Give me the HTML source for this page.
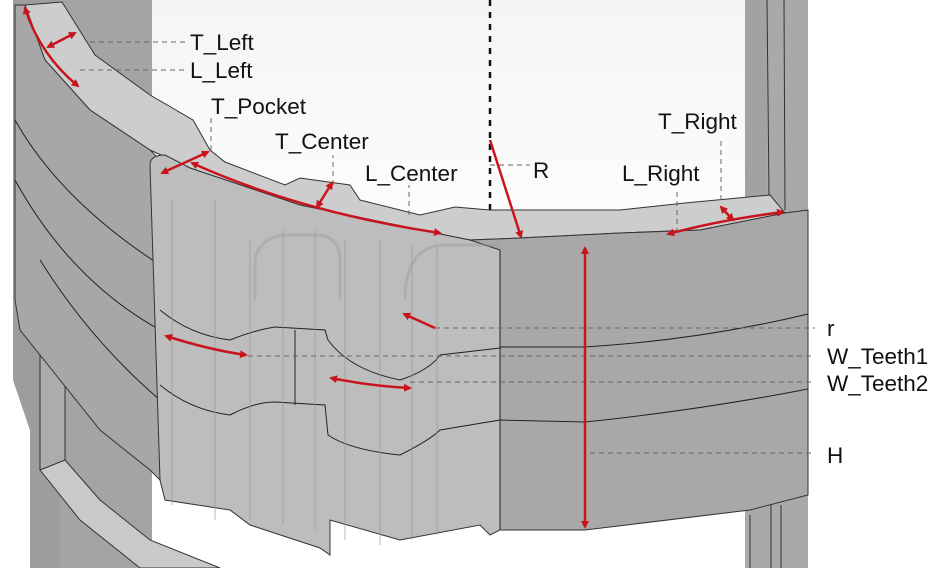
<!DOCTYPE html>
<html><head><style>
html,body{margin:0;padding:0;background:#fff;}
svg{display:block;}
text{font-family:"Liberation Sans",sans-serif;font-size:22.5px;fill:#111;}
</style></head><body>
<svg width="939" height="568" viewBox="0 0 939 568" xmlns="http://www.w3.org/2000/svg">
<defs>
<marker id="a" markerWidth="8" markerHeight="8" refX="6" refY="4" orient="auto-start-reverse" markerUnits="userSpaceOnUse">
<path d="M0,0 L8,4 L0,8 z" fill="#c8141c"/></marker>
<linearGradient id="bg" x1="0" y1="0" x2="0" y2="1"><stop offset="0" stop-color="#f4f5f6"/><stop offset="1" stop-color="#fdfdfd"/></linearGradient>
</defs>
<rect width="939" height="568" fill="#fff"/>
<rect x="150" y="0" width="600" height="240" fill="url(#bg)"/>
<rect x="745" y="0" width="63" height="568" fill="#a9a9a9"/>
<rect x="745" y="0" width="22" height="200" fill="#a2a2a2"/>
<line x1="767" y1="0" x2="769" y2="195" stroke="#333" stroke-width="1"/>
<line x1="784" y1="0" x2="785" y2="210" stroke="#333" stroke-width="1"/>
<line x1="750" y1="515" x2="750" y2="568" stroke="#333" stroke-width="1"/>
<line x1="771" y1="505" x2="771" y2="568" stroke="#333" stroke-width="1"/>
<line x1="781" y1="505" x2="781" y2="568" stroke="#333" stroke-width="1"/>
<path d="M13,0 L152,0 L152,568 L30,568 L30,430 L13,380 Z" fill="#a4a4a4"/>
<path d="M13,0 L60,0 L60,568 L30,568 L30,430 L13,380 Z" fill="#9d9d9d"/>
<path d="M40,330 L65,330 L65,470 L40,470 Z" fill="#acacac" stroke="#333" stroke-width="1"/>
<path d="M40,470 L65,460 L100,500 L150,540 L220,568 L140,568 L80,520 Z" fill="#c9c9c9" stroke="#333" stroke-width="1"/>
<path d="M25,5 L62,2 L95,55 L150,95 L193,120 L210,150 L225,162 L285,185 L300,178 L350,185 L360,200 L420,215 L455,207 L490,210 L620,210 L685,203 L770,195 L785,213 L700,230 L620,233 L520,238 L470,240 L430,232 L300,205 L190,168 L150,150 L90,110 L45,60 Z" fill="#cdcdcd" stroke="#333" stroke-width="1"/>
<path d="M15,5 L25,5 L45,60 L90,110 L150,150 L160,160 L160,480 L150,470 L100,430 L60,380 L20,330 L15,300 Z" fill="#a7a7a7" stroke="#333" stroke-width="1"/>
<path d="M15,120 Q60,200 160,265 M15,180 Q70,280 160,330 M40,260 Q90,340 160,400" fill="none" stroke="#222" stroke-width="1"/>
<path d="M470,240 L520,238 L620,233 L700,230 L785,213 L808,210 L808,495 L750,510 L585,530 L500,530 Z" fill="#a8a8a8" stroke="#333" stroke-width="1"/>
<path d="M500,347 L585,347 Q700,340 808,314 M500,420 L585,422 Q700,410 808,389" fill="none" stroke="#222" stroke-width="1"/>
<path d="M150,165 Q150,155 165,155 L190,168 L300,205 L430,232 L470,240 L500,250 L500,530 L490,535 L480,525 L400,540 L330,520 L330,555 L320,548 L250,525 L230,510 L165,500 L160,480 Z" fill="#bdbdbd" stroke="#333" stroke-width="1"/>
<path d="M255,300 L255,260 Q260,235 290,235 L315,235 Q340,235 340,260 L340,300" fill="none" stroke="#999" stroke-width="3" opacity="0.4"/>
<path d="M405,300 Q405,250 440,245 L500,245" fill="none" stroke="#999" stroke-width="3" opacity="0.4"/>
<path d="M160,310 Q190,335 230,340 Q255,330 275,327 L325,330 L328,340 Q350,370 400,380 Q430,370 440,355 L500,348" fill="none" stroke="#222" stroke-width="1"/>
<path d="M160,385 Q190,410 230,415 Q255,402 275,402 L325,405 L328,435 Q350,450 400,455 Q430,440 440,430 L500,420" fill="none" stroke="#222" stroke-width="1"/>
<line x1="295" y1="330" x2="295" y2="405" stroke="#222"/>
<g stroke="#9a9a9a" stroke-width="0.7" fill="none">
<line x1="172" y1="200" x2="172" y2="505"/><line x1="215" y1="200" x2="215" y2="520"/><line x1="250" y1="240" x2="250" y2="520"/>
<line x1="283" y1="230" x2="283" y2="525"/><line x1="315" y1="230" x2="315" y2="530"/><line x1="345" y1="240" x2="345" y2="540"/>
<line x1="380" y1="240" x2="380" y2="545"/><line x1="412" y1="245" x2="412" y2="540"/><line x1="437" y1="245" x2="437" y2="535"/>
</g>
<line x1="500" y1="250" x2="500" y2="530" stroke="#222"/>
<line x1="490" y1="0" x2="490" y2="210" stroke="#111" stroke-width="2.5" stroke-dasharray="6,6"/>
<g stroke="#666" stroke-width="1" stroke-dasharray="5,4" fill="none">
<path d="M90,42 H185"/><path d="M80,70 H185"/>
<path d="M211,150 V115"/><path d="M333,185 V155"/><path d="M409,215 V185"/>
<path d="M490,165 H530"/><path d="M677,233 V190"/><path d="M721,200 V140"/>
<path d="M435,328 H815"/><path d="M248,356 H815"/><path d="M410,382 H815"/><path d="M590,453 H815"/>
</g>
<g stroke="#c8141c" stroke-width="2.5" fill="none">
<path d="M25,8 Q40,55 78,86" marker-start="url(#a)" marker-end="url(#a)"/>
<path d="M48,47 L75,33" marker-start="url(#a)" marker-end="url(#a)"/>
<path d="M162,173 L208,152" marker-start="url(#a)" marker-end="url(#a)"/>
<path d="M192,163 Q300,212 440,233" marker-start="url(#a)" marker-end="url(#a)"/>
<path d="M317,207 L332,183" marker-start="url(#a)" marker-end="url(#a)"/>
<path d="M490,140 L521,237" marker-end="url(#a)"/>
<path d="M668,234 Q720,220 783,212" marker-start="url(#a)" marker-end="url(#a)"/>
<path d="M721,207 L733,220" marker-start="url(#a)" marker-end="url(#a)"/>
<path d="M585,248 V527" marker-start="url(#a)" marker-end="url(#a)"/>
<path d="M435,328 L404,314" marker-end="url(#a)"/>
<path d="M166,336 Q210,350 246,355" marker-start="url(#a)" marker-end="url(#a)"/>
<path d="M331,378 Q370,386 410,388" marker-start="url(#a)" marker-end="url(#a)"/>
</g>
<text x="190" y="50">T_Left</text>
<text x="190" y="78">L_Left</text>
<text x="211" y="114">T_Pocket</text>
<text x="275" y="149">T_Center</text>
<text x="365" y="181">L_Center</text>
<text x="533" y="178">R</text>
<text x="622" y="181">L_Right</text>
<text x="658" y="129">T_Right</text>
<text x="827" y="336">r</text>
<text x="827" y="364">W_Teeth1</text>
<text x="827" y="391">W_Teeth2</text>
<text x="827" y="463">H</text>
</svg>
</body></html>
